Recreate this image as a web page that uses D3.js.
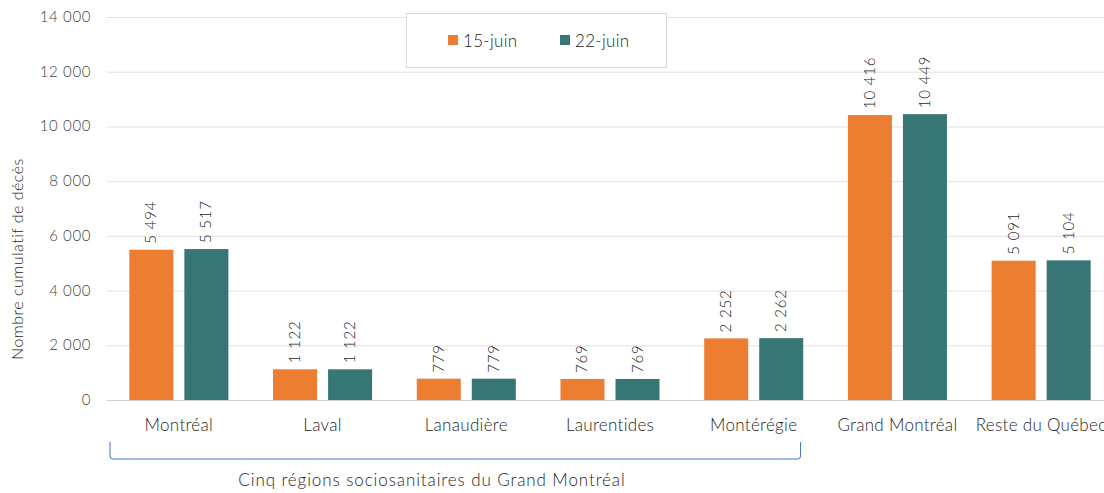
<!DOCTYPE html>
<html>
<head>
<meta charset="UTF-8">
<style>
  body { margin: 0; background: #fff; }
  svg text { font-family: Lato, 'Open Sans', sans-serif; font-weight: 300; }
</style>
</head>
<body>
<svg id="chart" width="1104" height="493"></svg>
<script src="https://d3js.org/d3.v7.min.js"></script>
<script>
const regions = ["Montréal", "Laval", "Lanaudière", "Laurentides", "Montérégie", "Grand Montréal", "Reste du Québec"];
const series = ["15-juin", "22-juin"];
const juin15 = [5494, 1122, 779, 769, 2252, 10416, 5091];
const juin22 = [5517, 1122, 779, 769, 2262, 10449, 5104];
const yTicks = [0, 2000, 4000, 6000, 8000, 10000, 12000, 14000];
const colours = ["#ED7D31", "#387676"];

const svg = d3.select("#chart");
const plotLeft = 107, plotRight = 1113, plotTop = 17, plotBottom = 400;

const fmt = v => d3.format(",")(v).replace(/,/g, " ");

let x0 = d3.scaleBand().domain(regions).range([plotLeft, plotRight]);
let x1 = d3.scaleBand().domain(series).range([0, x0.bandwidth()])
  .paddingInner(0.2).paddingOuter(0.406);
let y = d3.scaleLinear().domain([0, 14000]).range([plotBottom, plotTop]);

// gridlines
svg.append("g").selectAll("line")
  .data(yTicks)
  .enter().append("line")
  .attr("x1", plotLeft).attr("x2", 1104)
  .attr("y1", d => y(d) + 0.5).attr("y2", d => y(d) + 0.5)
  .attr("stroke", d => d === 0 ? "#d0d0d0" : "#e0e0e0")
  .attr("stroke-width", 1);

// y tick labels
svg.append("g").selectAll("text")
  .data(yTicks)
  .enter().append("text")
  .attr("x", 91).attr("y", d => y(d) + 5)
  .attr("text-anchor", "end")
  .attr("font-size", 15).attr("letter-spacing", 0.6).attr("fill", "#404040")
  .text(d => fmt(d));

// y title
svg.append("text")
  .attr("transform", "translate(23,259) rotate(-90)")
  .attr("text-anchor", "middle")
  .attr("font-size", 16).attr("letter-spacing", 0.5).attr("fill", "#262626")
  .text("Nombre cumulatif de décès");

// bars
let rows = regions.map((r, i) => ({ region: r, values: [juin15[i], juin22[i]] }));

let groups = svg.append("g").selectAll("g")
  .data(rows)
  .enter().append("g")
  .attr("transform", d => "translate(" + x0(d.region) + ",0)");

groups.selectAll("rect")
  .data(d => d.values.map((v, j) => ({ s: series[j], v: v, j: j })))
  .enter().append("rect")
  .attr("x", d => x1(d.s))
  .attr("width", x1.bandwidth())
  .attr("y", d => y(d.v))
  .attr("height", d => plotBottom - y(d.v))
  .attr("fill", d => colours[d.j]);

groups.selectAll("text")
  .data(d => d.values.map((v, j) => ({ s: series[j], v: v })))
  .enter().append("text")
  .attr("transform", d => "translate(" + (x1(d.s) + x1.bandwidth() / 2 + 5) + "," + (y(d.v) - 6) + ") rotate(-90)")
  .attr("text-anchor", "start")
  .attr("font-size", 15).attr("letter-spacing", 0.8).attr("fill", "#262626")
  .text(d => fmt(d.v));

// category labels
svg.append("g").selectAll("text")
  .data(regions)
  .enter().append("text")
  .attr("x", d => x0(d) + x0.bandwidth() / 2)
  .attr("y", 431)
  .attr("text-anchor", "middle")
  .attr("font-size", 17).attr("letter-spacing", 0.3).attr("fill", "#262626")
  .text(d => d);

// bracket under the five regions
let bx1 = x0(regions[0]) + 3, bx2 = x0(regions[4]) + x0.bandwidth() - 25, by = 459;
svg.append("path")
  .attr("d", "M" + bx1 + ",442 L" + bx1 + "," + (by - 3) + " Q" + bx1 + "," + by + " " + (bx1 + 3) + "," + by +
    " L" + (bx2 - 3) + "," + by + " Q" + bx2 + "," + by + " " + bx2 + "," + (by - 3) + " L" + bx2 + ",442")
  .attr("fill", "none").attr("stroke", "#4472C4").attr("stroke-width", 1);

svg.append("text")
  .attr("x", 432).attr("y", 486)
  .attr("text-anchor", "middle")
  .attr("font-size", 17).attr("letter-spacing", 0.9).attr("fill", "#262626")
  .text("Cinq régions sociosanitaires du Grand Montréal");

// legend
let legend = svg.append("g");
legend.append("rect")
  .attr("x", 406.5).attr("y", 13.5).attr("width", 260).attr("height", 54)
  .attr("fill", "#fff").attr("stroke", "#d9d9d9");
let lx = [448, 560];
series.forEach((s, i) => {
  legend.append("rect")
    .attr("x", lx[i]).attr("y", 35).attr("width", 10).attr("height", 10)
    .attr("fill", colours[i]);
  legend.append("text")
    .attr("x", lx[i] + 15).attr("y", 47)
    .attr("font-size", 17).attr("letter-spacing", 0.3).attr("fill", "#262626")
    .text(s);
});
</script>
</body>
</html>
